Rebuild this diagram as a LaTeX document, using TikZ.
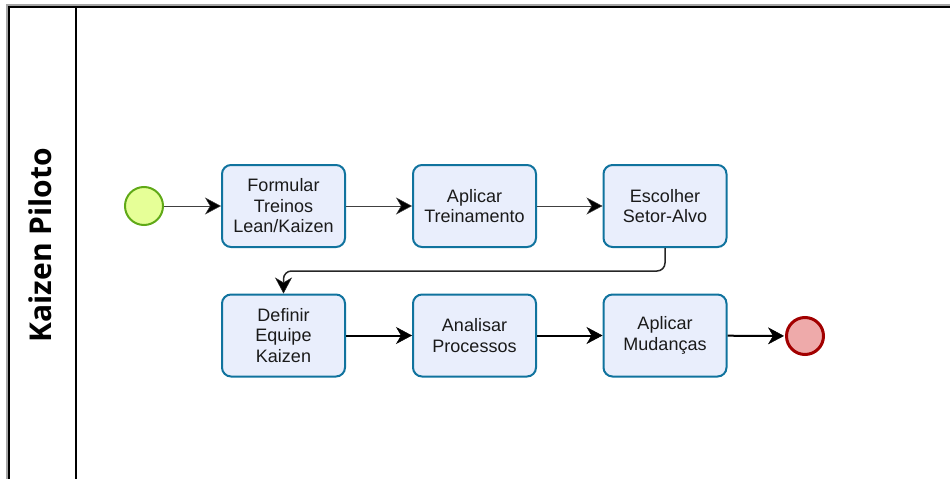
\documentclass[tikz,border=0pt]{standalone}
\usepackage{fontspec}
\setmainfont{Liberation Sans}
\newfontfamily\lanefont{Open Sans}
\usetikzlibrary{arrows.meta}

\definecolor{taskfill}{HTML}{E9EEFC}
\definecolor{taskline}{HTML}{10739E}
\definecolor{startfill}{HTML}{E6FF97}
\definecolor{startline}{HTML}{60A917}
\definecolor{endfill}{HTML}{EEAAAA}
\definecolor{endline}{HTML}{A20000}
\definecolor{textcol}{HTML}{1A1A1A}

\tikzset{
  taskbox/.style={draw=taskline, fill=taskfill, line width=2pt, rounded corners=9pt,
    minimum width=123pt, minimum height=82pt, align=center, text=textcol,
    font=\fontsize{18}{20.5}\selectfont, inner sep=2pt},
  startev/.style={circle, draw=startline, fill=startfill, line width=2pt, minimum size=38pt, inner sep=0pt},
  endev/.style={circle, draw=endline, fill=endfill, line width=3pt, minimum size=37pt, inner sep=0pt},
  flowtip/.style={-{Stealth[length=16pt, width=17pt, inset=5pt, fill=black, line width=0.5pt]}},
  thinflow/.style={draw=black!75, line width=1pt, flowtip},
  boldflow/.style={draw=black, line width=2pt, flowtip},
}

\begin{document}
\begin{tikzpicture}[x=1pt, y=-1pt]
\useasboundingbox (0,0) rectangle (950,479);

% pool frame with soft shadow edge
\draw[black!35, line width=4pt] (8,481) -- (8,6) -- (952,6);
\draw[black, line width=2pt] (9,481) -- (9,7) -- (952,7);
% lane header divider
\draw[black, line width=1.5pt] (76,7) -- (76,481);

% lane title
\node[rotate=90, font=\lanefont\bfseries\fontsize{30}{34}\selectfont] (lane) at (40,245) {Kaizen Piloto};

% events
\node[startev] (start) at (144,206) {};
\node[endev] (end) at (805,336) {};

% tasks, first row
\node[taskbox] (t1) at (283.5,206) {Formular\\Treinos\\Lean/Kaizen};
\node[taskbox] (t2) at (474.5,206) {Aplicar\\Treinamento};
\node[taskbox] (t3) at (665,206) {Escolher\\Setor-Alvo};
% tasks, second row
\node[taskbox] (t4) at (283.5,335.5) {Definir\\Equipe\\Kaizen};
\node[taskbox] (t5) at (474.5,335.5) {Analisar\\Processos};
\node[taskbox] (t6) at (665,335.5) {Aplicar\\Mudanças};

% sequence flows
\draw[thinflow] (start) -- (t1);
\draw[thinflow] (t1) -- (t2);
\draw[thinflow] (t2) -- (t3);
\coordinate (bendR) at (t3.south |- 0,271);
\coordinate (bendL) at (t4.north |- 0,271);
\draw[black!85, line width=1.5pt, rounded corners=8pt, flowtip]
  (t3.south) -- (bendR) -- (bendL) -- (t4.north);
\draw[boldflow] (t4) -- (t5);
\draw[boldflow] (t5) -- (t6);
\draw[boldflow, shorten >=1pt] (t6) -- (end);
\end{tikzpicture}
\end{document}
